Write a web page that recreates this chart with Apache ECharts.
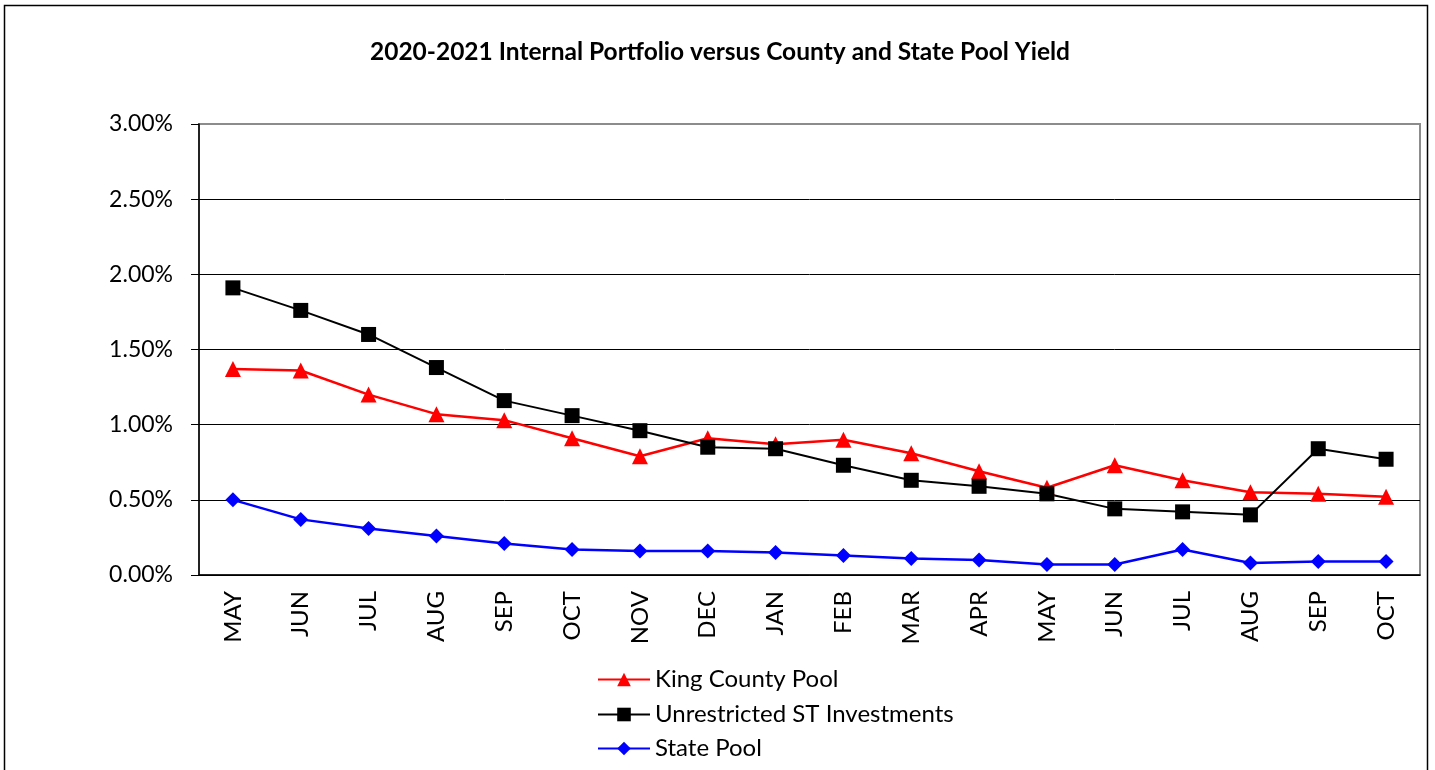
<!DOCTYPE html>
<html>
<head>
<meta charset="utf-8">
<script src="https://cdn.jsdelivr.net/npm/echarts@6/dist/echarts.min.js"></script>
<style>
html,body{margin:0;padding:0;background:#fff;}
#chart{width:1435px;height:770px;}
</style>
</head>
<body>
<div id="chart"></div>
<script>
var categories = ['MAY','JUN','JUL','AUG','SEP','OCT','NOV','DEC','JAN','FEB','MAR','APR','MAY','JUN','JUL','AUG','SEP','OCT'];
var kingCounty = [1.37,1.36,1.20,1.07,1.03,0.91,0.79,0.91,0.87,0.90,0.81,0.69,0.58,0.73,0.63,0.55,0.54,0.52];
var unrestricted = [1.91,1.76,1.60,1.38,1.16,1.06,0.96,0.85,0.84,0.73,0.63,0.59,0.54,0.44,0.42,0.40,0.84,0.77];
var statePool = [0.50,0.37,0.31,0.26,0.21,0.17,0.16,0.16,0.15,0.13,0.11,0.10,0.07,0.07,0.17,0.08,0.09,0.09];
var seriesNames = ['King County Pool','Unrestricted ST Investments','State Pool'];

var chart = echarts.init(document.getElementById('chart'));
var font = 'Lato, "Open Sans", sans-serif';
var legendRowTops = [667, 702, 736];
var legends = seriesNames.map(function (n, i) {
  return {
    orient: 'vertical', left: 597, top: legendRowTops[i], padding: 0,
    itemWidth: 52, itemHeight: 17,
    textStyle: {fontFamily: font, fontSize: 24, color: '#000', lineHeight: 25},
    data: [n]
  };
});
chart.setOption({
  animation: false,
  title: {
    text: '2020-2021 Internal Portfolio versus County and State Pool Yield',
    left: 715, top: 35, textAlign: 'center',
    textStyle: {fontFamily: font, fontWeight: 'bold', fontSize: 24.5, color: '#000'}
  },
  graphic: [{
    type: 'rect', shape: {x: 4.5, y: 5.5, width: 1423, height: 800},
    style: {fill: 'none', stroke: '#000', lineWidth: 1.5}, silent: true, z: -1
  }],
  legend: legends,
  grid: {
    left: 199, right: 15, top: 124, bottom: 195,
    show: true, borderColor: '#8c8c8c', borderWidth: 2
  },
  xAxis: {
    type: 'category', data: categories, boundaryGap: true,
    axisLine: {lineStyle: {color: '#000', width: 1.5}},
    axisTick: {length: 7, lineStyle: {color: '#000'}},
    axisLabel: {rotate: 90, fontFamily: font, fontSize: 24, color: '#000', margin: 16, interval: 0}
  },
  yAxis: {
    type: 'value', min: 0, max: 3, interval: 0.5,
    axisLine: {show: true, lineStyle: {color: '#000', width: 1.5}},
    axisTick: {show: true, length: 8, lineStyle: {color: '#000'}},
    axisLabel: {fontFamily: font, fontSize: 23, color: '#000', margin: 26,
      formatter: function (v) { return v.toFixed(2) + '%'; }},
    splitLine: {lineStyle: {color: ['#000','#000','#000','#000','#000','#000','#8c8c8c'], width: 1}}
  },
  series: [
    {name: seriesNames[0], type: 'line', data: kingCounty, symbol: 'triangle', symbolSize: 16,
      lineStyle: {color: '#ff0000', width: 2.5}, itemStyle: {color: '#ff0000'}},
    {name: seriesNames[1], type: 'line', data: unrestricted, symbol: 'rect', symbolSize: 15,
      lineStyle: {color: '#000', width: 2}, itemStyle: {color: '#000'}},
    {name: seriesNames[2], type: 'line', data: statePool, symbol: 'path://M0,-1 L1,0 L0,1 L-1,0 Z', symbolSize: 15,
      lineStyle: {color: '#0000ff', width: 2.5}, itemStyle: {color: '#0000ff'}}
  ]
});
</script>
</body>
</html>
